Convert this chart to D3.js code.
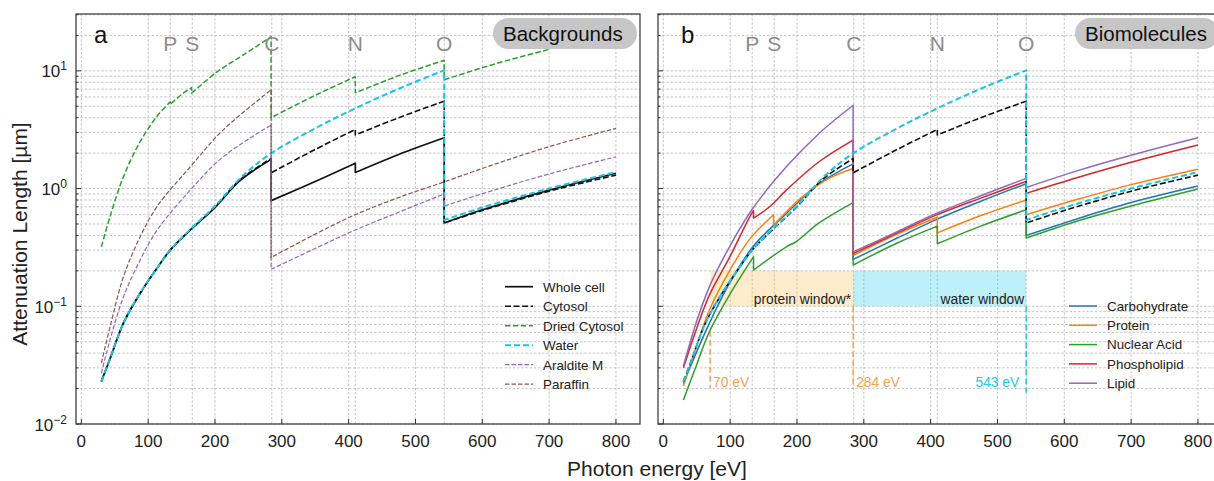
<!DOCTYPE html>
<html>
<head>
<meta charset="utf-8">
<script src="https://cdn.jsdelivr.net/npm/d3@7"></script>
<style>
  body { margin: 0; background: #fff; }
  svg { display: block; }
  text { font-family: "Liberation Sans", Arial, Helvetica, sans-serif; }
</style>
</head>
<body>
<svg id="chart" width="1214" height="481"></svg>
<script>
// ---- axis ticks and absorption edges ----
const energyTicks = [0, 100, 200, 300, 400, 500, 600, 700, 800];
const decadeTicks = [0.01, 0.1, 1, 10];
const decadeExponents = ["\u22122", "\u22121", "0", "1"];
const edgeNames = ["P", "S", "C", "N", "O"];
const edgeEnergies = [133, 166, 285, 410, 543];

// ---- attenuation length [um] vs photon energy [eV]; each series is a list of
//      continuous segments, consecutive segments are joined by the edge jump ----
const wholeCell = [
  [[30, 0.023], [43, 0.036], [63, 0.072], [88, 0.129], [113, 0.21], [133, 0.30], [163, 0.445], [200, 0.69], [237, 1.16], [284, 1.77]],
  [[284, 0.79], [350, 1.15], [410, 1.64]],
  [[410, 1.37], [475, 1.95], [543, 2.7]],
  [[543, 0.51], [600, 0.66], [700, 0.97], [800, 1.35]]
];
const cytosol = [
  [[30, 0.023], [43, 0.036], [63, 0.072], [88, 0.129], [113, 0.21], [133, 0.30], [163, 0.445], [200, 0.70], [237, 1.18], [284, 1.8]],
  [[284, 1.36], [350, 2.15], [410, 3.18]],
  [[410, 2.85], [475, 4.0], [543, 5.53]],
  [[543, 0.51], [600, 0.65], [700, 0.95], [800, 1.3]]
];
const driedCytosol = [
  [[30, 0.32], [43, 0.58], [63, 1.26], [88, 2.5], [113, 4.1], [133, 5.45]],
  [[133, 5.2], [150, 6.3], [165, 7.2]],
  [[165, 6.45], [203, 9.8], [242, 13.6], [284, 19.5]],
  [[284, 4.0], [350, 6.2], [410, 8.9]],
  [[410, 6.5], [475, 9.1], [543, 12.3]],
  [[543, 8.4], [620, 11.5], [700, 15.2]]
];
const water = [
  [[30, 0.023], [43, 0.036], [63, 0.072], [88, 0.13], [113, 0.21], [133, 0.30], [163, 0.45], [200, 0.71], [240, 1.26], [284, 1.99], [350, 3.25], [410, 4.8], [475, 7.05], [543, 10.1]],
  [[543, 0.54], [600, 0.69], [700, 1.0], [800, 1.38]]
];
const aralditeM = [
  [[30, 0.027], [43, 0.052], [63, 0.12], [88, 0.247], [113, 0.44], [163, 0.97], [212, 1.86], [284, 3.46]],
  [[284, 0.206], [350, 0.31], [410, 0.445], [475, 0.63], [543, 0.9]],
  [[543, 0.71], [620, 0.98], [700, 1.33], [800, 1.86]]
];
const paraffin = [
  [[30, 0.033], [43, 0.067], [63, 0.178], [88, 0.39], [113, 0.70], [163, 1.53], [212, 3.14], [284, 6.9]],
  [[284, 0.26], [350, 0.41], [410, 0.60], [475, 0.84], [543, 1.14], [620, 1.62], [700, 2.27], [800, 3.25]]
];

const carbohydrate = [
  [[30, 0.022], [49, 0.04], [69, 0.072], [99, 0.157], [134, 0.32], [184, 0.615], [233, 1.1], [284, 1.62]],
  [[284, 0.25], [350, 0.38], [410, 0.55], [475, 0.78], [543, 1.1]],
  [[543, 0.40], [620, 0.555], [700, 0.76], [800, 1.05]]
];
const protein = [
  [[30, 0.021], [49, 0.045], [69, 0.093], [99, 0.2], [129, 0.37], [165, 0.60]],
  [[165, 0.49], [208, 0.85], [248, 1.22], [284, 1.48]],
  [[284, 0.27], [350, 0.41], [410, 0.57]],
  [[410, 0.42], [475, 0.59], [543, 0.8]],
  [[543, 0.6], [620, 0.81], [700, 1.08], [800, 1.46]]
];
const nucleicAcid = [
  [[30, 0.016], [49, 0.031], [69, 0.061], [99, 0.125], [135, 0.264]],
  [[135, 0.203], [184, 0.32], [199, 0.355], [233, 0.51], [284, 0.76]],
  [[284, 0.224], [350, 0.345], [410, 0.48]],
  [[410, 0.34], [475, 0.48], [543, 0.66]],
  [[543, 0.38], [620, 0.53], [700, 0.71], [800, 0.99]]
];
const phospholipid = [
  [[30, 0.03], [49, 0.063], [69, 0.125], [99, 0.26], [131, 0.6], [135, 0.65]],
  [[135, 0.56], [159, 0.70], [184, 0.97], [233, 1.69], [284, 2.58]],
  [[284, 0.28], [350, 0.42], [410, 0.60], [475, 0.83], [543, 1.15]],
  [[543, 0.91], [620, 1.24], [700, 1.67], [800, 2.34]]
];
const lipid = [
  [[30, 0.031], [49, 0.072], [69, 0.147], [99, 0.32], [134, 0.68], [184, 1.53], [233, 2.94], [284, 5.1]],
  [[284, 0.29], [350, 0.43], [410, 0.62], [475, 0.87], [543, 1.22]],
  [[543, 1.02], [620, 1.42], [700, 1.92], [800, 2.7]]
];

const backgroundNames = ["Whole cell", "Cytosol", "Dried Cytosol", "Water", "Araldite M", "Paraffin"];
const biomoleculeNames = ["Carbohydrate", "Protein", "Nuclear Acid", "Phospholipid", "Lipid"];

// ---- imaging windows and their bounding energies ----
const windowNames = ["protein window*", "water window"];
const windowBounds = [[70, 284], [284, 543]];
const windowLevels = [0.1, 0.2];
const markerEnergies = [70, 284, 543];
const markerLabels = ["70 eV", "284 eV", "543 eV"];
const markerTops = [0.062, 0.1, 0.1];
const markerBottoms = [0.02, 0.02, 0.0185];

// ---- styles ----
const C = {
  black: "#111111", green: "#2ca02c", cyan: "#17c6e4", purple: "#9467bd",
  brown: "#8c564b", blue: "#1f77b4", orange: "#ff7f0e", red: "#d62728"
};
const styleOf = {
  "Whole cell":    { color: C.black,  width: 1.7, dash: null },
  "Cytosol":       { color: C.black,  width: 1.6, dash: "6,2.6" },
  "Dried Cytosol": { color: C.green,  width: 1.5, dash: "5.5,2.4" },
  "Water":         { color: C.cyan,   width: 2.0, dash: "6,3" },
  "Araldite M":    { color: C.purple, width: 1.2, dash: "4.5,2" },
  "Paraffin":      { color: C.brown,  width: 1.2, dash: "4.5,2" },
  "Carbohydrate":  { color: C.blue,   width: 1.5, dash: null },
  "Protein":       { color: C.orange, width: 1.5, dash: null },
  "Nuclear Acid":  { color: C.green,  width: 1.5, dash: null },
  "Phospholipid":  { color: C.red,    width: 1.5, dash: null },
  "Lipid":         { color: C.purple, width: 1.5, dash: null }
};

const seriesA = [
  ["Whole cell", wholeCell], ["Cytosol", cytosol], ["Dried Cytosol", driedCytosol],
  ["Water", water], ["Araldite M", aralditeM], ["Paraffin", paraffin]
];
const seriesB = [
  ["Carbohydrate", carbohydrate], ["Protein", protein], ["Nuclear Acid", nucleicAcid],
  ["Phospholipid", phospholipid], ["Lipid", lipid], ["Cytosol", cytosol], ["Water", water]
];

// ---- layout ----
const svg = d3.select("#chart");
const yTop = 14, yBottom = 424;
const y = d3.scaleLog().domain([0.01, 30.4]).range([yBottom, yTop]);
const xDomain = [-8, 836];
const gridColor = "#bdbdbd";

const panels = [
  { id: "a", left: 76, right: 640, letterX: 94, title: "Backgrounds", series: seriesA,
    legend: backgroundNames, legendX: 505, legendY: 286.7, legendStep: 19.5, yLabels: true, windows: false },
  { id: "b", left: 658, right: 1222, letterX: 681, title: "Biomolecules", series: seriesB,
    legend: biomoleculeNames, legendX: 1069, legendY: 306, legendStep: 19.3, yLabels: false, windows: true }
];

function pathFor(line, segments) {
  return segments.map((s, i) => {
    const d = line(s);
    return i ? d.replace(/^M/, "L") : d;
  }).join("");
}

const minorValues = [];
for (let d = -2; d <= 1; d++) {
  for (let k = 1; k <= 9; k++) {
    const v = k * Math.pow(10, d);
    if (v >= 0.01 && v <= 30.4) minorValues.push(v);
  }
}

panels.forEach(p => {
  const x = d3.scaleLinear().domain(xDomain).range([p.left, p.right]);
  const g = svg.append("g");

  g.append("clipPath").attr("id", "clip-" + p.id)
    .append("rect").attr("x", p.left).attr("y", yTop)
    .attr("width", p.right - p.left).attr("height", yBottom - yTop);

  // grid
  const grid = g.append("g").attr("stroke", gridColor).attr("stroke-width", 0.9)
    .attr("stroke-dasharray", "2.4,1.8").attr("fill", "none");
  minorValues.forEach(v => {
    grid.append("line").attr("x1", p.left).attr("x2", p.right)
      .attr("y1", y(v)).attr("y2", y(v));
  });
  energyTicks.concat(edgeEnergies).forEach(e => {
    grid.append("line").attr("x1", x(e)).attr("x2", x(e))
      .attr("y1", yTop).attr("y2", yBottom);
  });

  // imaging windows
  if (p.windows) {
    const fills = [{ c: "#f9c86a", o: 0.35 }, { c: "#36d0f0", o: 0.32 }];
    windowBounds.forEach((b, i) => {
      g.append("rect").attr("x", x(b[0])).attr("y", y(windowLevels[1]))
        .attr("width", x(b[1]) - x(b[0])).attr("height", y(windowLevels[0]) - y(windowLevels[1]))
        .attr("fill", fills[i].c).attr("fill-opacity", fills[i].o);
      g.append("text").attr("x", x(b[1]) - 2).attr("y", y(windowLevels[0]) - 2)
        .attr("text-anchor", "end").attr("font-size", 13.8).attr("fill", "#222")
        .text(windowNames[i]);
    });
    const mColors = ["#f6a04d", "#f6a04d", "#1ccbe6"];
    markerEnergies.forEach((e, i) => {
      g.append("line").attr("x1", x(e)).attr("x2", x(e))
        .attr("y1", y(markerTops[i])).attr("y2", y(markerBottoms[i]))
        .attr("stroke", mColors[i]).attr("stroke-width", 1.5).attr("stroke-dasharray", "6,3");
      const right = i === 2;
      g.append("text").attr("x", right ? x(e) - 7 : x(e) + 3).attr("y", 387)
        .attr("text-anchor", right ? "end" : "start").attr("font-size", 13.8)
        .attr("fill", mColors[i]).text(markerLabels[i]);
    });
  }

  // curves
  const line = d3.line().x(d => x(d[0])).y(d => y(d[1])).curve(d3.curveCatmullRom.alpha(0.5));
  const curves = g.append("g").attr("clip-path", "url(#clip-" + p.id + ")").attr("fill", "none");
  p.series.forEach(([name, segs]) => {
    const s = styleOf[name];
    curves.append("path").attr("d", pathFor(line, segs))
      .attr("stroke", s.color).attr("stroke-width", s.width)
      .attr("stroke-dasharray", s.dash).attr("stroke-linejoin", "round");
  });

  // edge labels
  edgeNames.forEach((n, i) => {
    g.append("text").attr("x", x(edgeEnergies[i])).attr("y", 50.5)
      .attr("text-anchor", "middle").attr("font-size", 21).attr("fill", "#8c8c8c").text(n);
  });

  // panel letter
  g.append("text").attr("x", p.letterX).attr("y", 43).attr("font-size", 24)
    .attr("fill", "#111").text(p.id);

  // title badge
  const bx = p.right - 147;
  g.append("rect").attr("x", bx).attr("y", 18).attr("width", 144).attr("height", 31)
    .attr("rx", 15.5).attr("fill", "#c6c6c6");
  g.append("text").attr("x", bx + 10).attr("y", 41).attr("font-size", 20.5)
    .attr("fill", "#111").text(p.title);

  // legend
  p.legend.forEach((name, i) => {
    const s = styleOf[name];
    const ly = p.legendY + i * p.legendStep;
    g.append("line").attr("x1", p.legendX).attr("x2", p.legendX + 28)
      .attr("y1", ly).attr("y2", ly).attr("stroke", s.color)
      .attr("stroke-width", s.width).attr("stroke-dasharray", s.dash);
    g.append("text").attr("x", p.legendX + 38).attr("y", ly + 4.8)
      .attr("font-size", 13.4).attr("fill", "#222").text(name);
  });

  // ticks
  const ticks = g.append("g").attr("stroke", "#333").attr("stroke-width", 1);
  energyTicks.forEach(e => {
    ticks.append("line").attr("x1", x(e)).attr("x2", x(e))
      .attr("y1", yBottom).attr("y2", yBottom - 5);
  });
  minorValues.forEach(v => {
    const major = decadeTicks.includes(v);
    ticks.append("line").attr("x1", p.left).attr("x2", p.left + (major ? 5 : 2.5))
      .attr("y1", y(v)).attr("y2", y(v));
  });

  // frame
  g.append("rect").attr("x", p.left).attr("y", yTop)
    .attr("width", p.right - p.left).attr("height", yBottom - yTop)
    .attr("fill", "none").attr("stroke", "#333").attr("stroke-width", 1.2);

  // tick labels
  energyTicks.forEach(e => {
    g.append("text").attr("x", x(e)).attr("y", 446.5).attr("text-anchor", "middle")
      .attr("font-size", 17).attr("fill", "#222").text(e);
  });
  if (p.yLabels) {
    decadeTicks.forEach((v, i) => {
      const t = g.append("text").attr("x", 67).attr("y", y(v) + 6.5)
        .attr("text-anchor", "end").attr("font-size", 17).attr("fill", "#222");
      t.append("tspan").text("10");
      t.append("tspan").attr("dy", -7).attr("font-size", 12).text(decadeExponents[i]);
    });
  }
});

// axis titles
svg.append("text").attr("x", 657).attr("y", 476).attr("text-anchor", "middle")
  .attr("font-size", 21).attr("fill", "#222").text("Photon energy [eV]");
svg.append("text").attr("transform", "translate(27,234) rotate(-90)")
  .attr("text-anchor", "middle").attr("font-size", 21).attr("fill", "#222")
  .text("Attenuation Length [\u00b5m]");
</script>
</body>
</html>
